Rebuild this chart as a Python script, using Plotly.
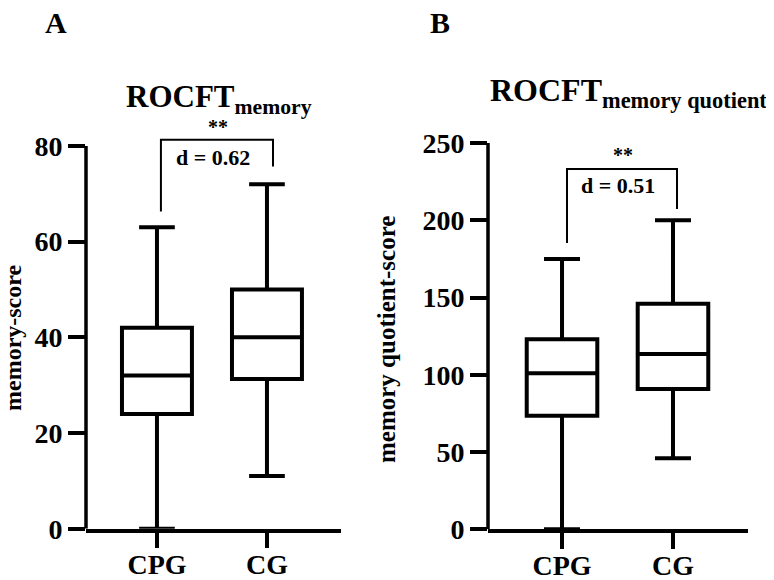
import plotly.graph_objects as go

FONT = "Liberation Serif"

groups = ["CPG", "CG"]

# panel A: ROCFT memory
mem_q1 = [24, 31.3]
mem_median = [32, 40]
mem_q3 = [42, 50]
mem_low = [0, 11]
mem_high = [63, 72]

# panel B: ROCFT memory quotient
mq_q1 = [73.5, 90.8]
mq_median = [101, 113.5]
mq_q3 = [123, 146]
mq_low = [0, 46]
mq_high = [175, 200]

mem_ticks = [0, 20, 40, 60, 80]
mq_ticks = [0, 50, 100, 150, 200, 250]

effect_a = "d = 0.62"
effect_b = "d = 0.51"
stars = "**"

LW = 4
W, H = 766, 572  # page body has an 8px margin


def fx(px):
    return (px - 8) / W


def fy(py):
    return 1 - (py - 8) / H


def box(q1, med, q3, lo, hi, xa, ya):
    return go.Box(
        x=[0, 1], q1=q1, median=med, q3=q3, lowerfence=lo, upperfence=hi,
        width=0.636, whiskerwidth=0.51, boxpoints=False,
        line=dict(color="black", width=LW), fillcolor="white",
        xaxis=xa, yaxis=ya, showlegend=False, hoverinfo="skip",
    )


fig = go.Figure()
fig.add_trace(box(mem_q1, mem_median, mem_q3, mem_low, mem_high, "x", "y"))
fig.add_trace(box(mq_q1, mq_median, mq_q3, mq_low, mq_high, "x2", "y2"))

xcommon = dict(tickvals=[0, 1], ticktext=groups, showline=True, linewidth=3.5,
               linecolor="black", ticks="outside", ticklen=16, tickwidth=3.5,
               tickcolor="black", showgrid=False, zeroline=False, automargin=False,
               ticklabelstandoff=-8,
               tickfont=dict(size=28, family=FONT, weight="bold", color="black"))
ycommon = dict(showline=False, ticks="outside", ticklen=17, tickwidth=3.5,
               tickcolor="black", showgrid=False, zeroline=False, automargin=False,
               tickfont=dict(size=28, family=FONT, weight="bold", color="black"))

fig.update_layout(
    width=W, height=H,
    margin=dict(l=0, r=0, t=0, b=0),
    paper_bgcolor="white", plot_bgcolor="white",
    font=dict(family=FONT, color="black", weight="bold"),
    xaxis=dict(domain=[fx(86), fx(341)], range=[-0.645, 1.673], anchor="y", **xcommon),
    yaxis=dict(domain=[fy(528.7), fy(119.7)], range=[0, 85.5], anchor="x",
               tickvals=mem_ticks, **ycommon),
    xaxis2=dict(domain=[fx(488), fx(748)], range=[-0.667, 1.676], anchor="y2", **xcommon),
    yaxis2=dict(domain=[fy(529.3), fy(143)], range=[0, 250], anchor="x2",
                tickvals=mq_ticks, **ycommon),
)

# y axis lines stop at the top tick (GraphPad style)
for yref, xdom, top in [("y", "x domain", mem_ticks[-1]), ("y2", "x2 domain", mq_ticks[-1])]:
    fig.add_shape(type="line", xref=xdom, yref=yref, x0=0, x1=0, y0=0, y1=top,
                  line=dict(color="black", width=3.5))


def bracket(xa, ya, x0, x1, top, left_bot, right_bot, text, star_y, text_y):
    fig.add_shape(type="path", xref=xa, yref=ya,
                  path=f"M {x0},{left_bot} L {x0},{top} L {x1},{top} L {x1},{right_bot}",
                  line=dict(color="black", width=2))
    mid = (x0 + x1) / 2
    fig.add_annotation(xref=xa, yref=ya, x=mid + 0.01, y=star_y, text=stars,
                       showarrow=False, font=dict(size=20, weight="bold"))
    fig.add_annotation(xref=xa, yref=ya, x=mid - 0.035, y=text_y, text=text,
                       showarrow=False, font=dict(size=22, weight="bold"))


bracket("x", "y", 0.036, 1.055, 81.3, 66.3, 75.7, effect_a, 84.0, 77.5)
bracket("x2", "y2", 0.045, 1.036, 233.2, 185.3, 207.3, effect_b, 242.3, 222.8)


def label(px, py, text, size, angle=0):
    fig.add_annotation(xref="paper", yref="paper", x=fx(px), y=fy(py),
                       xanchor="center", yanchor="middle", text=text,
                       textangle=angle, showarrow=False,
                       font=dict(size=size, weight="bold"))


# titles, panel letters, axis titles
label(219, 99, "ROCFT<sub>memory</sub>", 31)
label(628, 92, "ROCFT<sub>memory quotient</sub>", 32)
label(56, 22, "A", 30)
label(440, 22, "B", 30)
label(13, 338, "memory-score", 24, -90)
label(386, 340, "memory quotient-score", 25, -90)

fig.write_html("out.html")
